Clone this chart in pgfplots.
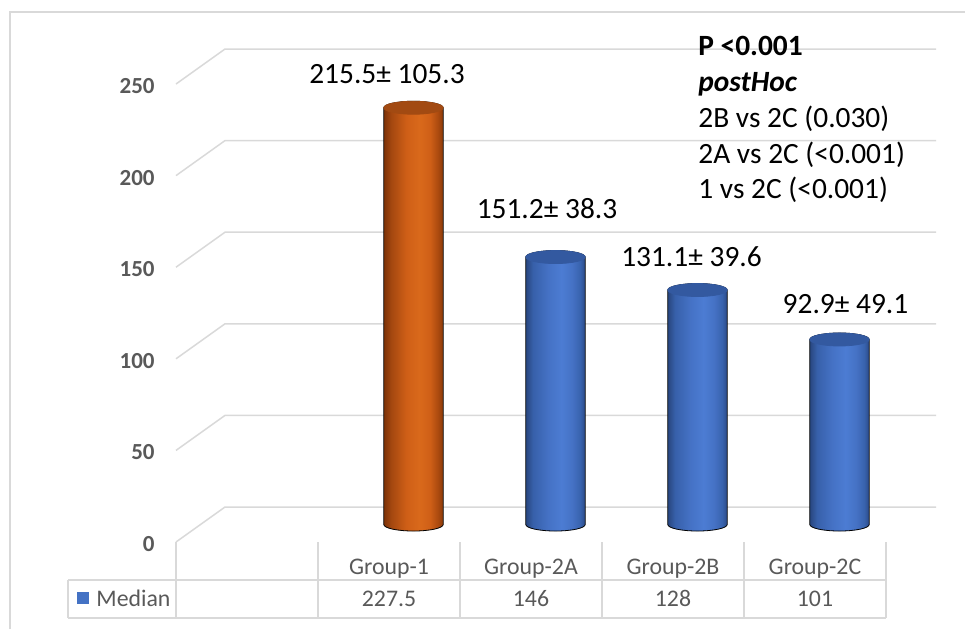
\documentclass[border=0pt]{standalone}
\usepackage{pgfplots}
\pgfplotsset{compat=1.18}
\usepackage{pgfplotstable}
\usepackage{fontspec}
\setmainfont{Carlito}

\definecolor{gridgray}{HTML}{D9D9D9}
\definecolor{labgray}{HTML}{595959}
\definecolor{keyblue}{HTML}{4472C4}
% orange cylinder
\definecolor{oEdgeL}{HTML}{7C3208}
\definecolor{oDarkL}{HTML}{A3470F}
\definecolor{oMid}{HTML}{CF5F17}
\definecolor{oBright}{HTML}{D9691B}
\definecolor{oDarkR}{HTML}{A9490F}
\definecolor{oEdgeR}{HTML}{8A3A0A}
\definecolor{oTop}{HTML}{A24A12}
% blue cylinders
\definecolor{bEdgeL}{HTML}{28467F}
\definecolor{bDarkL}{HTML}{3760AA}
\definecolor{bMid}{HTML}{4572C5}
\definecolor{bBright}{HTML}{4C7CD3}
\definecolor{bDarkR}{HTML}{3862AD}
\definecolor{bEdgeR}{HTML}{2B4A86}
\definecolor{bTop}{HTML}{3359A0}

\pgfdeclarehorizontalshading{cylOrange}{100bp}{%
  color(0bp)=(oEdgeL); color(25bp)=(oEdgeL); color(31bp)=(oDarkL);
  color(44bp)=(oMid); color(55bp)=(oBright); color(64bp)=(oMid);
  color(71bp)=(oDarkR); color(75bp)=(oEdgeR); color(100bp)=(oEdgeR)}
\pgfdeclarehorizontalshading{cylBlue}{100bp}{%
  color(0bp)=(bEdgeL); color(25bp)=(bEdgeL); color(31bp)=(bDarkL);
  color(44bp)=(bMid); color(55bp)=(bBright); color(64bp)=(bMid);
  color(71bp)=(bDarkR); color(75bp)=(bEdgeR); color(100bp)=(bEdgeR)}

\newcommand\lblfont{\fontsize{14.7}{17.6}\selectfont}
\newcommand\tickfont{\fontsize{11.5}{13.8}\selectfont\bfseries}
\newcommand\tabfont{\fontsize{11.9}{14.3}\selectfont}

% a cylinder whose top centre sits on the data point; its height follows the value
\newcommand\cylinder[2]{%
  \pgfmathsetmacro\cylh{\barval*0.916}%
  \shade[shading=#1, yslant=0.1]
    (14.85pt,-\cylh pt) arc[start angle=0, end angle=-180, x radius=14.85pt, y radius=3.25pt]
    -- (-14.85pt,0pt) arc[start angle=180, end angle=0, x radius=14.85pt, y radius=3.25pt]
    -- cycle;
  \fill[#2, yslant=0.1] (0pt,0pt) ellipse[x radius=14.85pt, y radius=3.25pt];%
}
\pgfdeclareplotmark{cylorange}{\cylinder{cylOrange}{oTop}}
\pgfdeclareplotmark{cylblue}{\cylinder{cylBlue}{bTop}}

\pgfplotstableread{
x median
0 227.5
1 146
2 128
3 101
}\medians

\begin{document}
\begin{tikzpicture}
\begin{scope}[x=0.5pt,y=-0.5pt]
  \useasboundingbox (0,0) rectangle (965,629);
  % chart frame
  \draw[gridgray, line width=0.75pt] (10,629) -- (10,12) -- (965,12);
  % back wall gridlines with their depth edges
  \foreach \v in {0,50,...,250}{
    \pgfmathsetmacro\yb{507-1.832*\v}
    \draw[gridgray, line width=0.75pt] (176,{\yb+35}) -- (225,\yb) -- (936,\yb);
  }
  % data table
  \foreach \x in {176,318,460,602,744,886}{
    \draw[gridgray, line width=0.75pt] (\x,542) -- (\x,618);
  }
  \draw[gridgray, line width=0.75pt] (68,580) -- (886,580) (68,618) -- (886,618) (68,580) -- (68,618);
  \fill[keyblue] (77,592) rectangle (89,604);
  \node[anchor=base west, inner sep=0pt, text=labgray, font=\tabfont] at (96,606) {Median};
\end{scope}

\begin{axis}[
  at={(100.25pt,-262.25pt)}, anchor=south west,
  scale only axis, width=355pt, height=229pt,
  xmin=-1.5, xmax=3.5, ymin=0, ymax=250,
  clip=false,
  axis line style={draw=none},
  major tick length=0pt,
  major tick style={draw=none},
  ytick={0,50,...,250},
  xtick={0,1,2,3},
  xticklabels={Group-1,Group-2A,Group-2B,Group-2C},
  /pgf/number format/assume math mode=true,
  yticklabel style={anchor=east, inner sep=0pt, xshift=-22.75pt, yshift=-9.75pt, text=labgray, font=\tickfont},
  xticklabel style={anchor=base, inner sep=0pt, xshift=-12.25pt, yshift=-24.75pt, text=labgray, font=\tabfont},
]
  \addplot[only marks, mark=cylorange,
    visualization depends on={rawy \as \barval},
    skip coords between index={1}{4}]
    table[x=x, y=median]{\medians};
  \addplot[only marks, mark=cylblue,
    visualization depends on={rawy \as \barval},
    skip coords between index={0}{1}]
    table[x=x, y=median]{\medians};
  % median row of the data table
  \addplot[draw=none, mark=none, nodes near coords, point meta=explicit symbolic,
    nodes near coords style={anchor=base, inner sep=0pt, xshift=-12.25pt, yshift=-40.75pt, text=labgray, font=\tabfont}]
    table[x=x, y expr=0, meta=median]{\medians};
  % mean +- SD above each cylinder
  \node[anchor=base, inner sep=0pt, font=\lblfont, xshift=-13.25pt, yshift=12.2pt] at (axis cs:0,227.5) {215.5± 105.3};
  \node[anchor=base, inner sep=0pt, font=\lblfont, xshift=-4.25pt, yshift=19.35pt] at (axis cs:1,146) {151.2± 38.3};
  \node[anchor=base, inner sep=0pt, font=\lblfont, xshift=-3pt, yshift=11.65pt] at (axis cs:2,128) {131.1± 39.6};
  \node[anchor=base, inner sep=0pt, font=\lblfont, xshift=3pt, yshift=13.1pt] at (axis cs:3,101) {92.9± 49.1};
\end{axis}

\begin{scope}[x=0.5pt,y=-0.5pt]
  \node[anchor=base west, inner sep=0pt, font=\lblfont\bfseries] at (698,55) {P <0.001};
  \node[anchor=base west, inner sep=0pt, font=\lblfont\bfseries\itshape] at (698,91) {postHoc};
  \node[anchor=base west, inner sep=0pt, font=\lblfont] at (698,127) {2B vs 2C (0.030)};
  \node[anchor=base west, inner sep=0pt, font=\lblfont] at (698,163) {2A vs 2C (<0.001)};
  \node[anchor=base west, inner sep=0pt, font=\lblfont] at (698,198) {1 vs 2C (<0.001)};
\end{scope}
\end{tikzpicture}
\end{document}
